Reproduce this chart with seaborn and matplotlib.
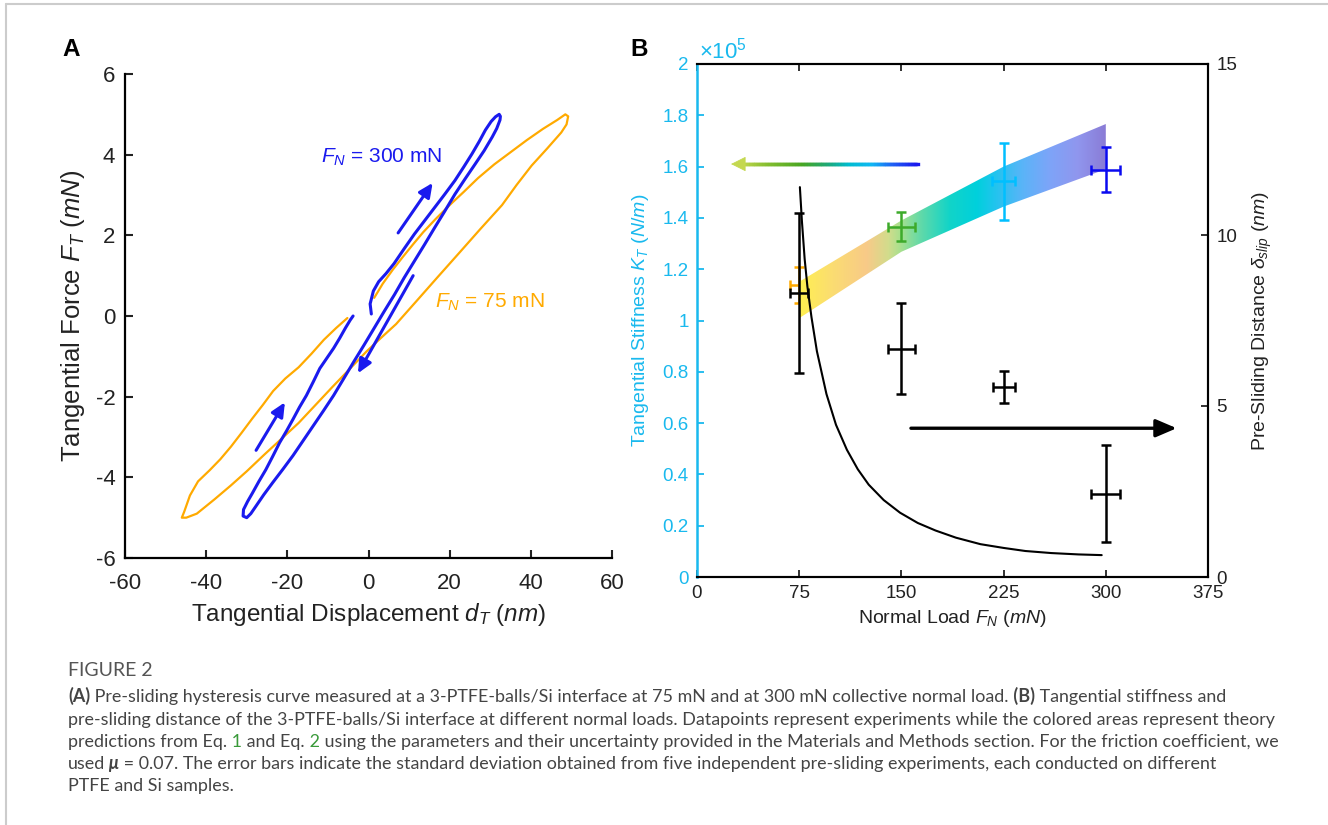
import numpy as np
import pandas as pd
import matplotlib
matplotlib.use("Agg")
import matplotlib.pyplot as plt
import seaborn as sns
from matplotlib.colors import LinearSegmentedColormap
from matplotlib.collections import LineCollection
from matplotlib.patches import PathPatch
from matplotlib.ticker import FuncFormatter
from matplotlib.transforms import IdentityTransform

# === DATA: panel A, hysteresis loops (nm, mN) ===
# 75 mN loop: loading branch, unloading branch, reloading branch
o_load_x = [1.4, 3.5, 6.0, 8.5, 11.0, 13.5, 16.5, 20.0, 23.5, 27.0, 31.0, 35.0, 39.0, 43.0, 46.5, 48.5, 49.2]
o_load_y = [0.45, 0.8, 1.15, 1.47, 1.78, 2.08, 2.4, 2.75, 3.08, 3.42, 3.76, 4.06, 4.36, 4.64, 4.86, 5.0, 4.95]
o_unload_x = [48.8, 47.5, 44.0, 40.2, 36.5, 32.9, 27.5, 22.4, 17.0, 12.0, 6.8, 3.0, -0.5, -4.5, -8.9, -13.0,
              -17.2, -21.5, -25.6, -30.0, -33.9, -38.0, -42.3, -44.9, -46.0]
o_unload_y = [4.75, 4.55, 4.15, 3.73, 3.25, 2.75, 2.15, 1.57, 0.96, 0.39, -0.2, -0.55, -0.88, -1.3, -1.76, -2.2,
              -2.65, -3.05, -3.43, -3.85, -4.2, -4.55, -4.9, -5.0, -5.0]
o_reload_x = [-45.4, -44.0, -42.0, -39.1, -36.5, -33.9, -31.3, -28.7, -26.0, -23.5, -20.5, -17.2, -14.0, -11.0, -8.0, -5.2]
o_reload_y = [-4.85, -4.45, -4.1, -3.82, -3.55, -3.24, -2.9, -2.55, -2.2, -1.86, -1.55, -1.27, -0.93, -0.59, -0.3, -0.05]

# 300 mN loop
b_load_x = [0.7, 0.4, 1.2, 2.5, 4.3, 6.3, 8.8, 11.3, 13.8, 16.3, 18.8, 21.3, 23.5, 25.5, 27.3, 28.8, 30.2, 31.3, 32.2]
b_load_y = [0.05, 0.3, 0.62, 0.85, 1.05, 1.3, 1.67, 2.03, 2.36, 2.69, 3.02, 3.36, 3.7, 4.02, 4.33, 4.61, 4.82, 4.94, 5.0]
b_unload_x = [32.5, 32.4, 31.6, 30.5, 28.5, 26.3, 23.8, 21.3, 18.8, 16.3, 13.8, 11.3, 8.8, 6.4, 3.9, 1.4, -1.1,
              -3.6, -6.1, -8.6, -11.1, -13.6, -16.1, -18.6, -21.1, -23.6, -25.8, -27.7, -29.0, -30.0, -30.9]
b_unload_y = [4.95, 4.86, 4.65, 4.44, 4.1, 3.77, 3.4, 3.02, 2.6, 2.19, 1.77, 1.36, 0.95, 0.53, 0.12, -0.3, -0.72,
              -1.13, -1.55, -1.97, -2.35, -2.72, -3.09, -3.46, -3.8, -4.13, -4.43, -4.71, -4.9, -5.0, -4.96]
b_reload_x = [-30.8, -29.8, -28.6, -27.0, -25.3, -23.6, -21.9, -20.2, -18.6, -17.0, -15.3, -13.6, -12.0, -10.3,
              -8.6, -7.1, -5.7, -4.5, -3.8]
b_reload_y = [-4.8, -4.6, -4.39, -4.1, -3.81, -3.48, -3.14, -2.85, -2.56, -2.26, -1.97, -1.63, -1.3, -1.05,
              -0.8, -0.55, -0.3, -0.1, 0.0]

# direction arrows on the 300 mN loop: (tail, head)
arrows_a = [((7.3, 2.06), (15.8, 3.3)), ((11.0, 1.0), (-2.6, -1.42)), ((-27.7, -3.33), (-20.6, -2.14))]

# === DATA: panel B ===
loads = [75, 150, 225, 300]
stiffness = [1.137, 1.366, 1.542, 1.588]          # x 1e5 N/m
stiffness_err = [0.07, 0.056, 0.15, 0.088]
stiff_load_err = [6.5, 10.0, 8.5, 10.5]
slip = [8.30, 6.68, 5.55, 2.44]                   # nm
slip_err = [2.33, 1.33, 0.47, 1.41]
slip_load_err = [6.5, 10.0, 8.0, 10.5]

band_load = [75, 150, 225, 300]
band_low = [1.009, 1.268, 1.444, 1.59]
band_high = [1.151, 1.39, 1.60, 1.766]

theory_load = [75.5, 77, 79, 81, 84, 88, 95, 102, 110, 118, 126, 137, 149, 162, 175, 190, 208, 225, 241, 260, 280, 297]
theory_slip = [11.4, 10.4, 9.3, 8.5, 7.6, 6.6, 5.35, 4.45, 3.72, 3.15, 2.7, 2.25, 1.88, 1.58, 1.36, 1.15, 0.96, 0.85,
               0.76, 0.70, 0.66, 0.64]

# === STYLE ===
sns.set_theme(style="ticks")
plt.rcParams['font.family'] = ['Liberation Sans', 'DejaVu Sans']
plt.rcParams['mathtext.fontset'] = 'custom'
plt.rcParams['mathtext.rm'] = 'Liberation Sans'
plt.rcParams['mathtext.it'] = 'Liberation Sans:italic'
plt.rcParams['mathtext.bf'] = 'Liberation Sans:bold'
plt.rcParams['axes.unicode_minus'] = False

ORANGE = '#FFAA00'
BLUE = '#1A1AEE'
CYAN = '#19B9EE'
GREEN = '#3DAA2A'
POINT_COLORS = [ORANGE, GREEN, '#00BFFF', '#0A0AF0']
TXT = '#222222'

W, H = 1328, 825
fig = plt.figure(figsize=(W / 100, H / 100), dpi=100)
fig.patch.set_facecolor('white')

# border lines of the page
fig.add_artist(plt.Line2D([6 / W, 6 / W], [0, 1 - 4 / H], color='#CCCCCC', lw=1.5))
fig.add_artist(plt.Line2D([6 / W, 1], [1 - 4 / H, 1 - 4 / H], color='#CCCCCC', lw=1.5))

# === PANEL A ===
ax1 = fig.add_axes([125 / W, 1 - 558 / H, 487 / W, 484 / H])
orange_df = pd.DataFrame({"d": o_load_x + o_unload_x + o_reload_x, "f": o_load_y + o_unload_y + o_reload_y})
blue_df = pd.DataFrame({"d": b_load_x + b_unload_x + b_reload_x, "f": b_load_y + b_unload_y + b_reload_y})
sns.lineplot(data=orange_df, x="d", y="f", sort=False, estimator=None, color=ORANGE, lw=1.6, ax=ax1)
sns.lineplot(data=blue_df, x="d", y="f", sort=False, estimator=None, color=BLUE, lw=2.2, ax=ax1)
for tail, head in arrows_a:
    ax1.annotate("", xy=head, xytext=tail,
                 arrowprops=dict(arrowstyle='-|>,head_length=0.6,head_width=0.28', lw=2.2, color=BLUE,
                                 mutation_scale=14, shrinkA=0, shrinkB=0))
ax1.text(-11.8, 3.94, r"$F_N$ = 300 mN", color=BLUE, fontsize=15, va='center', ha='left')
ax1.text(16.3, 0.33, r"$F_N$ = 75 mN", color=ORANGE, fontsize=15, va='center', ha='left')

ax1.set_xlim(-60, 60)
ax1.set_ylim(-6, 6)
ax1.set_xticks(range(-60, 61, 20))
ax1.set_yticks(range(-6, 7, 2))
sns.despine(ax=ax1)
for s in ['left', 'bottom']:
    ax1.spines[s].set_linewidth(1.6)
    ax1.spines[s].set_color('black')
ax1.tick_params(direction='in', length=6, width=1.5, labelsize=16, colors=TXT)
ax1.tick_params(axis='x', pad=11)
ax1.tick_params(axis='y', pad=7)
ax1.set_xlabel(r"Tangential Displacement $d_T$ $\mathit{(nm)}$", fontsize=17.5, color=TXT, labelpad=5)
ax1.set_ylabel(r"Tangential Force $F_T$ $\mathit{(mN)}$", fontsize=18.5, color=TXT, labelpad=6)

# === PANEL B ===
ax2 = fig.add_axes([697 / W, 1 - 577 / H, 511 / W, 513 / H])
ax2.set_xlim(0, 375)
ax2.set_ylim(0, 2)

# gradient band (theory prediction for stiffness)
band_cmap = LinearSegmentedColormap.from_list("band", [
    (0.0, '#FFF050'), (0.11, '#FBDC72'), (0.22, '#F8CA88'), (0.29, '#D2DC8C'), (0.33, '#A8E08E'),
    (0.40, '#5ED9AA'), (0.49, '#12D4C8'), (0.58, '#00D0DC'), (0.64, '#22C4EE'), (0.73, '#5AB4F8'),
    (0.82, '#7EA4F8'), (0.91, '#9096EE'), (1.0, '#8A7CD6')])
poly = ax2.fill_between(band_load, band_low, band_high, color='none', lw=0)
clip = PathPatch(poly.get_paths()[0], transform=ax2.transData, facecolor='none', edgecolor='none')
ax2.add_patch(clip)
im = ax2.imshow(np.linspace(0, 1, 256).reshape(1, -1), extent=[band_load[0], band_load[-1], 0, 2],
                aspect='auto', cmap=band_cmap, origin='lower', zorder=1, interpolation='bilinear')
im.set_clip_path(clip)

for i in range(len(loads)):
    ax2.errorbar(loads[i], stiffness[i], yerr=stiffness_err[i], xerr=stiff_load_err[i], color=POINT_COLORS[i],
                 lw=1.8, capsize=3.5, capthick=1.8, zorder=3 if i else 0.5)

# gradient arrow pointing to the left axis
arrow_cmap = LinearSegmentedColormap.from_list("arr", [
    (0.0, '#C4D850'), (0.15, '#86BE30'), (0.35, '#48A622'), (0.5, '#1EA878'), (0.62, '#00BCD0'),
    (0.75, '#10B8F4'), (0.87, '#2060F4'), (1.0, '#1A1AEE')])
xs = np.linspace(32, 162, 120)
segs = [[(xs[k], 1.61), (xs[k + 1], 1.61)] for k in range(len(xs) - 1)]
lc = LineCollection(segs, colors=arrow_cmap(np.linspace(0, 1, len(segs))), lw=2.4, zorder=2,
                    capstyle='projecting')
ax2.add_collection(lc)
ax2.annotate("", xy=(25, 1.61), xytext=(34, 1.61),
             arrowprops=dict(arrowstyle='-|>,head_length=0.6,head_width=0.3', lw=0.5, color='#C4D850',
                             mutation_scale=16, shrinkA=0, shrinkB=0))

ax2.set_xticks([0, 75, 150, 225, 300, 375])
ax2.set_yticks(np.round(np.arange(0, 2.01, 0.2), 1))
ax2.yaxis.set_major_formatter(FuncFormatter(lambda v, p: f"{v:g}"))
ax2.tick_params(axis='x', direction='in', top=True, length=5, width=1.3, labelsize=13.5, colors=TXT, pad=6)
ax2.tick_params(axis='y', direction='in', length=5, width=1.3, labelsize=13.5, colors=CYAN, pad=6)
for s in ['top', 'bottom', 'right']:
    ax2.spines[s].set_color('black')
    ax2.spines[s].set_linewidth(1.5)
ax2.spines['left'].set_color(CYAN)
ax2.spines['left'].set_linewidth(1.8)
ax2.set_xlabel(r"Normal Load $F_N$ $\mathit{(mN)}$", fontsize=14, color=TXT, labelpad=4)
ax2.set_ylabel(r"Tangential Stiffness $K_T$ $\mathit{(N/m)}$", fontsize=14, color=CYAN, labelpad=8)
ax2.text(0.003, 1.0, r"$\times10^{5}$", transform=ax2.transAxes, color=CYAN, fontsize=16,
         va='bottom', ha='left')

ax3 = ax2.twinx()
ax3.set_ylim(0, 15)
sns.lineplot(x=theory_load, y=theory_slip, sort=False, estimator=None, color='black', lw=1.5, ax=ax3)
ax3.errorbar(loads, slip, yerr=slip_err, xerr=slip_load_err, fmt='none', ecolor='black', lw=1.8,
             capsize=3.5, capthick=1.8)
ax3.annotate("", xy=(352, 4.35), xytext=(157, 4.35),
             arrowprops=dict(arrowstyle='-|>,head_length=0.7,head_width=0.3', lw=2.4, color='black',
                             mutation_scale=18, shrinkA=0, shrinkB=0))
ax3.set_yticks([0, 5, 10, 15])
ax3.tick_params(axis='y', direction='in', length=5, width=1.3, labelsize=13.5, colors=TXT, pad=6)
ax3.spines['left'].set_visible(False)
for s in ['top', 'bottom', 'right']:
    ax3.spines[s].set_color('black')
    ax3.spines[s].set_linewidth(1.5)
ax3.set_ylabel(r"Pre-Sliding Distance $\delta_{slip}$ $\mathit{(nm)}$", fontsize=14, color=TXT,
               rotation=90, labelpad=10)
ax3.yaxis.set_label_position('right')

# panel letters
fig.text(62 / W, 1 - 49 / H, "A", fontsize=17.5, fontweight='bold', va='center', ha='left', color='black')
fig.text(630 / W, 1 - 49 / H, "B", fontsize=17.5, fontweight='bold', va='center', ha='left', color='black')

# === CAPTION ===
CAP_FONT = ['Lato', 'DejaVu Sans']
CAP_GRAY = '#444444'
CAP_SIZE = 12.9
renderer = fig.canvas.get_renderer()


def caption_line(baseline_px, pieces):
    x = 68
    for s, style in pieces:
        kw = dict(fontsize=CAP_SIZE, family=CAP_FONT, color=CAP_GRAY, va='baseline', ha='left')
        kw.update(style)
        t = fig.text(x, H - baseline_px, s, transform=IdentityTransform(), **kw)
        x = t.get_window_extent(renderer).x1


fig.text(68, H - 676, "FIGURE 2", transform=IdentityTransform(), fontsize=14, family=CAP_FONT,
         color='#555555', va='baseline', ha='left')
B = dict(fontweight='bold')
N = dict()
G = dict(color='#3A9A3A')
caption_line(702, [("(A)", B), (" Pre-sliding hysteresis curve measured at a 3-PTFE-balls/Si interface at 75 mN and at 300 mN"
                                " collective normal load.", N), (" (B)", B), (" Tangential stiffness and", N)])
caption_line(725, [("pre-sliding distance of the 3-PTFE-balls/Si interface at different normal loads. Datapoints represent"
                    " experiments while the colored areas represent theory", N)])
caption_line(747, [("predictions from Eq.", N), (" 1", G), (" and Eq.", N), (" 2", G),
                   (" using the parameters and their uncertainty provided in the Materials and Methods section. For the"
                    " friction coefficient, we", N)])
caption_line(769, [("used", N), (" \u03bc", dict(fontweight='bold', fontstyle='italic')),
                   (" = 0.07. The error bars indicate the standard deviation obtained from five independent pre-sliding"
                    " experiments, each conducted on different", N)])
caption_line(791, [("PTFE and Si samples.", N)])

fig.savefig("out.png", dpi=100)
